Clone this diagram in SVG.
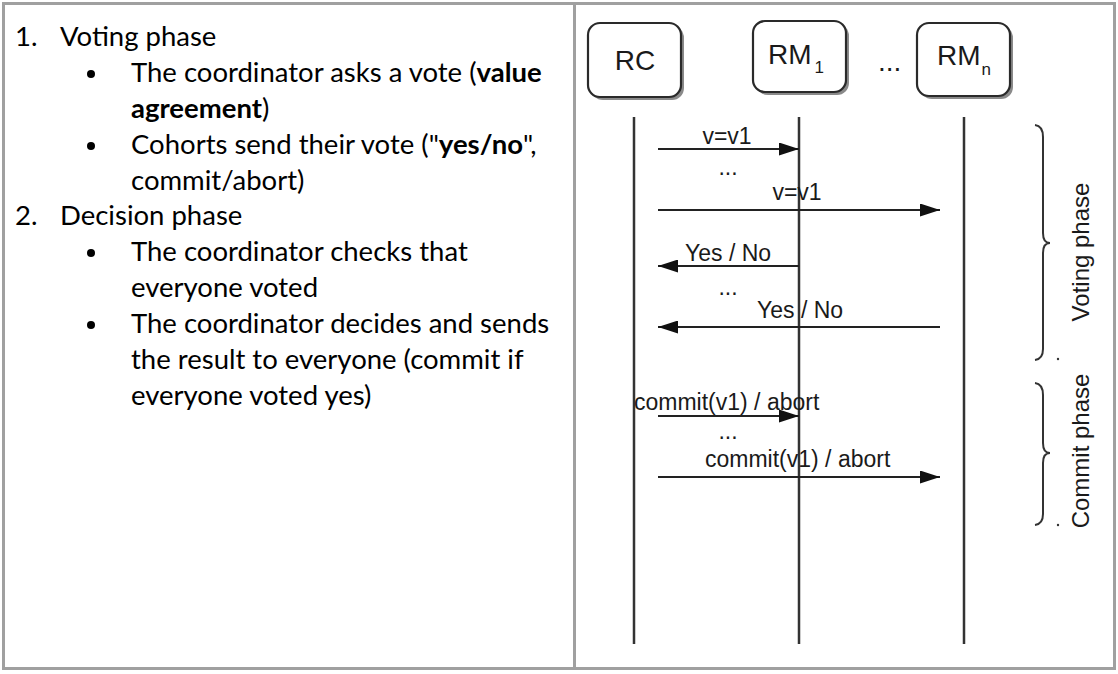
<svg xmlns="http://www.w3.org/2000/svg" width="1118" height="674" viewBox="0 0 1118 674">
<defs>
<style>
.t{font-family:Lato,"Open Sans",sans-serif;font-size:27.5px;fill:#000}
.b{font-weight:bold}
.lbl{font-family:"Liberation Sans",Arial,sans-serif;font-size:23px;fill:#1a1a1a}
.vt{font-family:"Liberation Sans",Arial,sans-serif;font-size:24px;fill:#1a1a1a}
.hd{font-family:"Liberation Sans",Arial,sans-serif;font-size:28px;fill:#1a1a1a}
.sub{font-family:"Liberation Sans",Arial,sans-serif;font-size:17px;fill:#1a1a1a}
.life{stroke:#333;stroke-width:2.5;fill:none}
.msg{stroke:#222;stroke-width:2;fill:none;marker-end:url(#ah)}
.box{fill:#fff;stroke:#2a2a2a;stroke-width:2.2}
.shadow{fill:#8a8a8a}
.brace{fill:none;stroke:#333;stroke-width:2}
</style>
<marker id="ah" markerUnits="userSpaceOnUse" markerWidth="20" markerHeight="13" refX="20" refY="6.5" orient="auto">
<path d="M0,0 L20,6.5 L0,13 z" fill="#111"/>
</marker>
</defs>
<rect x="0" y="0" width="1118" height="674" fill="#fff"/>
<g id="table" fill="none" stroke="#a0a0a0" stroke-width="3">
<rect x="3.5" y="3.5" width="1111" height="665"/>
<line x1="574.5" y1="3.5" x2="574.5" y2="668.5"/>
</g>
<g id="text-left">
<text class="t" x="15" y="46">1.</text><text class="t" x="60" y="46">Voting phase</text>
<circle cx="91" cy="74" r="4"/>
<text class="t" x="131" y="82">The coordinator asks a vote (<tspan class="b">value</tspan></text>
<text class="t" x="131" y="118"><tspan class="b">agreement</tspan>)</text>
<circle cx="91" cy="146" r="4"/>
<text class="t" x="131" y="154">Cohorts send their vote ("<tspan class="b">yes/no</tspan>",</text>
<text class="t" x="131" y="189.5">commit/abort)</text>
<text class="t" x="15" y="225">2.</text><text class="t" x="60" y="225">Decision phase</text>
<circle cx="91" cy="253" r="4"/>
<text class="t" x="131" y="261">The coordinator checks that</text>
<text class="t" x="131" y="297">everyone voted</text>
<circle cx="91" cy="325" r="4"/>
<text class="t" x="131" y="333">The coordinator decides and sends</text>
<text class="t" x="131" y="368.5">the result to everyone (commit if</text>
<text class="t" x="131" y="404.5">everyone voted yes)</text>
</g>
<g id="RC">
<rect class="shadow" x="591" y="26" width="93" height="74" rx="12"/>
<rect class="box" x="588" y="23" width="93" height="74" rx="12"/>
<text class="hd" x="635" y="70" text-anchor="middle">RC</text>
</g>
<g id="RM1">
<rect class="shadow" x="756" y="24" width="93" height="71" rx="12"/>
<rect class="box" x="753" y="21" width="93" height="71" rx="12"/>
<text class="hd" x="768" y="64">RM<tspan class="sub" dx="3" dy="9">1</tspan></text>
</g>
<text class="hd" x="878" y="71">...</text>
<g id="RMn">
<rect class="shadow" x="920" y="26" width="93" height="73" rx="12"/>
<rect class="box" x="917" y="23" width="93" height="73" rx="12"/>
<text class="hd" x="937" y="65">RM<tspan class="sub" dx="1" dy="10">n</tspan></text>
</g>
<g id="connectors">
<line class="life" x1="634" y1="117" x2="634" y2="644"/>
<line class="life" x1="799" y1="117" x2="799" y2="644"/>
<line class="life" x1="964" y1="117" x2="964" y2="644"/>
<line class="msg" x1="658" y1="149" x2="799" y2="149"/>
<line class="msg" x1="658" y1="210" x2="940" y2="210"/>
<line class="msg" x1="799" y1="266" x2="658" y2="266"/>
<line class="msg" x1="940" y1="327" x2="658" y2="327"/>
<line class="msg" x1="658" y1="416" x2="799" y2="416"/>
<line class="msg" x1="658" y1="477" x2="940" y2="477"/>
</g>
<g id="labels">
<text class="lbl" x="727" y="144" text-anchor="middle">v=v1</text>
<text class="lbl" x="728" y="175" text-anchor="middle">...</text>
<text class="lbl" x="797" y="200" text-anchor="middle">v=v1</text>
<text class="lbl" x="685" y="261">Yes / No</text>
<text class="lbl" x="728" y="295" text-anchor="middle">...</text>
<text class="lbl" x="757" y="318">Yes / No</text>
<text class="lbl" x="634" y="410">commit(v1) / abort</text>
<text class="lbl" x="728" y="439" text-anchor="middle">...</text>
<text class="lbl" x="705" y="467">commit(v1) / abort</text>
</g>
<g id="voting-phase">
<path class="brace" d="M1035,125 Q1043,126 1043,137 L1043,233 Q1043,243 1050,243 Q1043,243 1043,253 L1043,349 Q1043,359 1035,360"/>
<circle cx="1058" cy="359" r="1.2" fill="#333"/>
<text class="vt" transform="translate(1089,252) rotate(-90)" text-anchor="middle">Voting phase</text>
</g>
<g id="commit-phase">
<path class="brace" d="M1035,383 Q1043,384 1043,395 L1043,443 Q1043,453 1050,453 Q1043,453 1043,463 L1043,514 Q1043,524 1035,525"/>
<circle cx="1058" cy="525" r="1.2" fill="#333"/>
<text class="vt" transform="translate(1089,451) rotate(-90)" text-anchor="middle">Commit phase</text>
</g>
</svg>
